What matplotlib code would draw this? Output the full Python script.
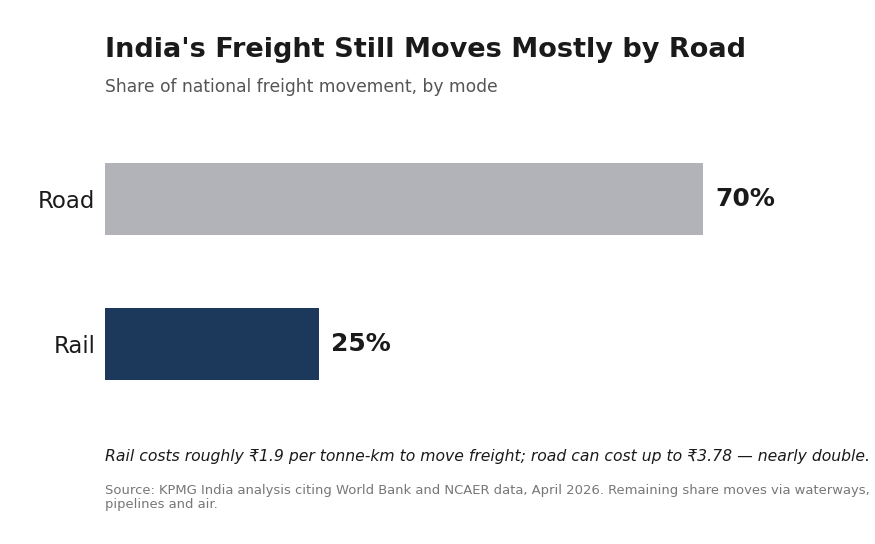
import matplotlib
matplotlib.use("Agg")
import matplotlib.pyplot as plt

modes = ["Rail", "Road"]
shares = [25, 70]
colors = ["#1c395b", "#b1b3b8"]

W, H = 875, 544
fig = plt.figure(figsize=(W/100, H/100), dpi=100)
ax = fig.add_axes([105/W, 1-420/H, 765/W, 290/H])
ax.barh(range(len(modes)), shares, height=0.5, color=colors)
ax.set_xlim(0, 765/8.54)
ax.set_ylim(-0.524, 1.476)
ax.set_yticks(range(len(modes)))
ax.set_yticklabels(modes, fontsize=16.5, color="#1a1a1a")
ax.tick_params(axis="y", length=0, pad=7)
ax.set_xticks([])
for s in ax.spines.values():
    s.set_visible(False)
for i, v in enumerate(shares):
    ax.text(v + 1.5, i, f"{v}%", va="center", ha="left", fontsize=18, fontweight="bold", color="#1a1a1a")

fig.text(105/W, 1-50/H, "India's Freight Still Moves Mostly by Road", fontsize=19.5, fontweight="bold", color="#1a1a1a", va="center")
fig.text(105/W, 1-87/H, "Share of national freight movement, by mode", fontsize=12.35, color="#555555", va="center")
fig.text(105/W, 1-456/H, "Rail costs roughly ₹1.9 per tonne-km to move freight; road can cost up to ₹3.78 — nearly double.", fontsize=11.25, style="italic", color="#1a1a1a", va="center")
fig.text(105/W, 1-484/H, "Source: KPMG India analysis citing World Bank and NCAER data, April 2026. Remaining share moves via waterways,\npipelines and air.", fontsize=9.45, color="#777777", va="top", linespacing=1.1)
fig.savefig("out.png", dpi=100, facecolor="white")
